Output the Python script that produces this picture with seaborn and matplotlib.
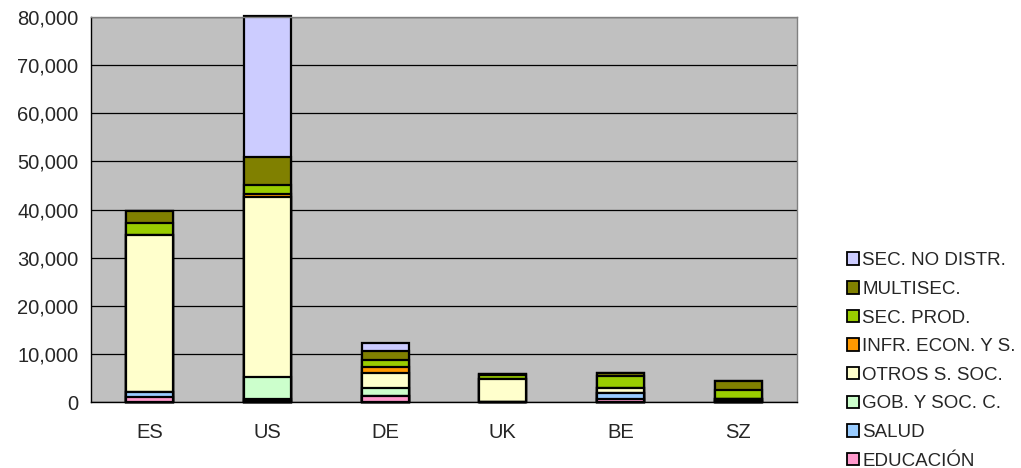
import numpy as np
import pandas as pd
import seaborn as sns
import matplotlib.pyplot as plt
from matplotlib.patches import Patch
from matplotlib.ticker import FuncFormatter, FixedLocator

# data
categories = ['ES', 'US', 'DE', 'UK', 'BE', 'SZ']
educacion = [1000, 300, 1300, 0, 600, 0]
salud = [1000, 300, 0, 0, 1300, 300]
gob_soc = [0, 4600, 1600, 0, 0, 300]
otros_soc = [32700, 37500, 3200, 4800, 1100, 0]
infr_econ = [0, 600, 1100, 0, 0, 0]
sec_prod = [2400, 1700, 1500, 900, 2400, 2000]
multisec = [2600, 6000, 1900, 100, 550, 1800]
no_distr = [0, 29300, 1700, 0, 0, 0]

series_names = ['EDUCACIÓN', 'SALUD', 'GOB. Y SOC. C.', 'OTROS S. SOC.',
                'INFR. ECON. Y S.', 'SEC. PROD.', 'MULTISEC.', 'SEC. NO DISTR.']
series_values = [educacion, salud, gob_soc, otros_soc, infr_econ, sec_prod, multisec, no_distr]
series_colors = ['#FF99CC', '#99CCFF', '#CCFFCC', '#FFFFCC',
                 '#FF9900', '#99CC00', '#808000', '#CCCCFF']

sns.set_style('white')
plt.rcParams['font.family'] = ['Liberation Sans', 'DejaVu Sans']

df = pd.DataFrame(dict(zip(series_names, series_values)), index=categories)
cum = df.cumsum(axis=1)

fig = plt.figure(figsize=(10.21, 4.68), dpi=100)
ax = fig.add_axes([0.0891, 0.141, 0.6915, 0.8226])
ax.set_facecolor('#C0C0C0')

# stacking by drawing cumulative totals from the top series down
for name, color in zip(reversed(series_names), reversed(series_colors)):
    sns.barplot(x=categories, y=cum[name].values, color=color, width=0.4,
                edgecolor='black', linewidth=1.6, saturation=1, ax=ax, clip_on=False)

ax.set_ylim(0, 80000)
ax.set_xlim(-0.5, len(categories) - 0.5)
ax.set_yticks(np.arange(0, 80001, 10000))
ax.yaxis.set_major_formatter(FuncFormatter(lambda v, p: f'{int(v):,}'))
ax.yaxis.grid(True, color='black', linewidth=0.9)
ax.set_axisbelow(True)

ax.xaxis.set_minor_locator(FixedLocator(np.arange(-0.5, len(categories), 1.0)))
ax.tick_params(axis='x', which='major', length=0, pad=15, labelsize=14.5)
ax.tick_params(axis='x', which='minor', length=5, width=1, color='black', direction='out')
ax.tick_params(axis='y', length=5, width=1, color='black', direction='out', labelsize=14.5, pad=4)

for side in ['left', 'bottom']:
    ax.spines[side].set_color('black')
    ax.spines[side].set_linewidth(1)
for side in ['top', 'right']:
    ax.spines[side].set_color('#808080')
    ax.spines[side].set_linewidth(1)

handles = [Patch(facecolor=c, edgecolor='black', linewidth=1.3, label=n)
           for n, c in zip(reversed(series_names), reversed(series_colors))]
fig.legend(handles=handles, loc='upper left', bbox_to_anchor=(0.8296, 0.461),
           frameon=False, fontsize=13.5, handlelength=0.65, handleheight=0.65,
           handletextpad=0.15, labelspacing=0.62, borderpad=0, borderaxespad=0)

fig.savefig('out.png', dpi=100)
